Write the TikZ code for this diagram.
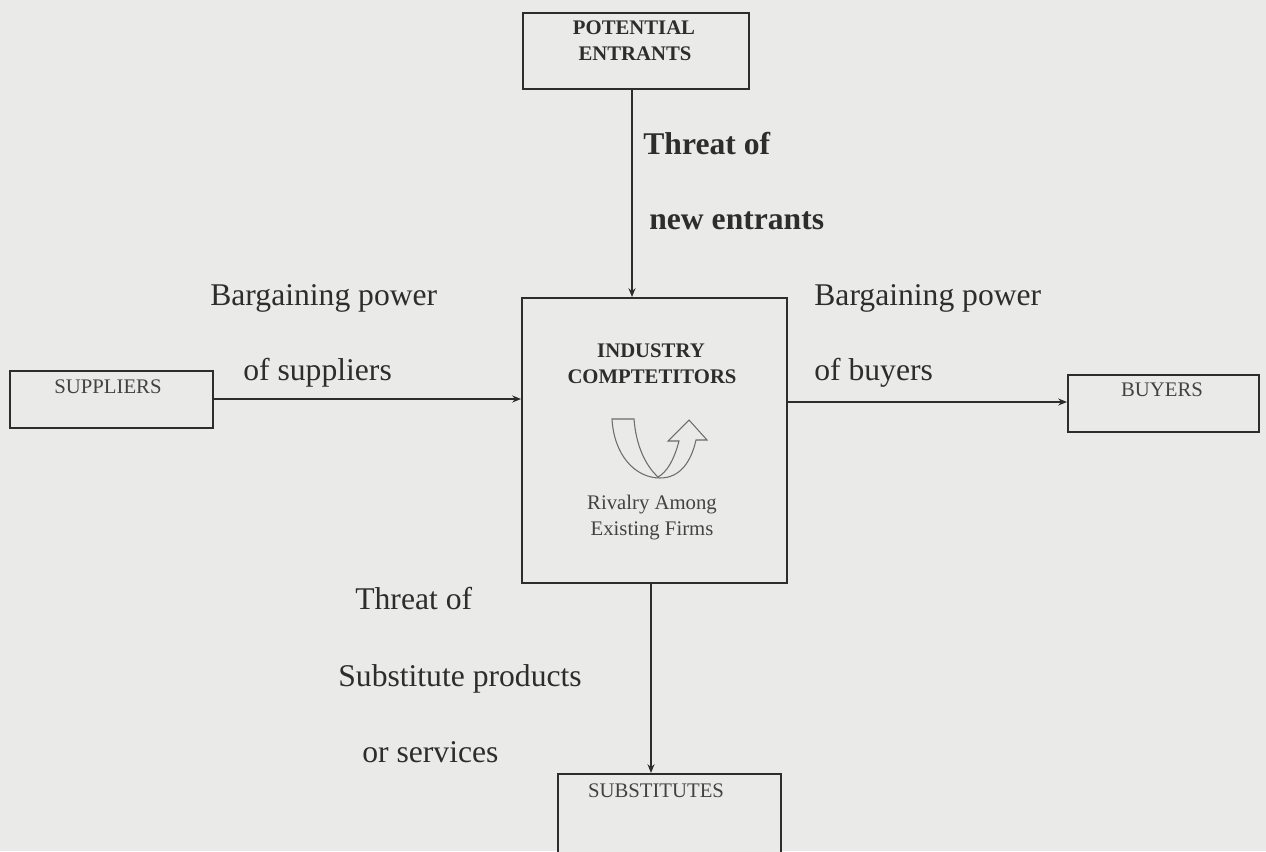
\documentclass[tikz,border=0pt]{standalone}
\usepackage{fontspec}
\setmainfont{Liberation Serif}
\usetikzlibrary{arrows.meta}
\definecolor{bg}{RGB}{234,234,232}
\definecolor{ink}{RGB}{45,45,45}
\begin{document}
\begin{tikzpicture}[x=0.02cm,y=-0.02cm,
  box/.style={draw=ink,line width=1.05pt,fill=bg,inner sep=0pt,anchor=north west},
  lbl/.style={text=ink,font=\fontsize{18}{21}\selectfont,inner sep=0pt,anchor=base west},
  blbl/.style={text=ink,font=\bfseries\fontsize{18}{21}\selectfont,inner sep=0pt,anchor=base west},
  btxt/.style={text=ink,font=\bfseries\fontsize{11.8}{14}\selectfont,inner sep=0pt,anchor=base},
  rtxt/.style={text=ink!90,font=\fontsize{11.8}{14}\selectfont,inner sep=0pt,anchor=base},
  conn/.style={draw=ink,line width=1.05pt,-{Stealth[length=5pt,width=4pt]}}]
\useasboundingbox (0,0) rectangle (1266,851);
\fill[bg] (0,0) rectangle (1266,851);
% boxes
\node[box,minimum width=226*0.02cm,minimum height=76*0.02cm] (pe) at (522,12) {};
\node[box,minimum width=265*0.02cm,minimum height=285*0.02cm] (ic) at (521,297) {};
\node[box,minimum width=203*0.02cm,minimum height=57*0.02cm] (su) at (9,370) {};
\node[box,minimum width=191*0.02cm,minimum height=57*0.02cm] (bu) at (1067,374) {};
\node[box,minimum width=223*0.02cm,minimum height=110*0.02cm] (sb) at (557,773) {};
% box texts
\node[btxt] (pet1) at (634,35) {POTENTIAL};
\node[btxt] (pet2) at (635,61) {ENTRANTS};
\node[btxt] (ict1) at (651,357) {INDUSTRY};
\node[btxt] (ict2) at (652,383) {COMPTETITORS};
\node[rtxt] (sut) at (108,393) {SUPPLIERS};
\node[rtxt] (but) at (1162,396) {BUYERS};
\node[rtxt] (sbt) at (656,797) {SUBSTITUTES};
\node[rtxt] (riv1) at (652,509) {Rivalry Among};
\node[rtxt] (riv2) at (652,535) {Existing Firms};
% connectors
\draw[conn] (pe.south -| 632,0) -- (ic.north -| 632,0);
\draw[conn] (su.east |- 0,399) -- (ic.west |- 0,399);
\draw[conn] (ic.east |- 0,402) -- (bu.west |- 0,402);
\draw[conn] (ic.south -| 651,0) -- (sb.north -| 651,0);
% rivalry arrow
\draw[ink!70,line width=0.6pt,line join=miter] (612,419) .. controls (614,455) and (635,478) .. (660,478)
  .. controls (680,478) and (691,462) .. (696,440) -- (707,440) -- (689,420) -- (668,441) -- (679,441)
  .. controls (674,460) and (667,472) .. (658,477)
  .. controls (645,465) and (636,445) .. (634,419) -- cycle;
% labels
\node[blbl] (t1) at (643,154) {Threat of};
\node[blbl] (t2) at (649,229) {new entrants};
\node[lbl] (b1) at (210,305) {Bargaining power};
\node[lbl] (b2) at (243,380) {of suppliers};
\node[lbl] (b3) at (814,305) {Bargaining power};
\node[lbl] (b4) at (814,380) {of buyers};
\node[lbl] (s1) at (355,609) {Threat of};
\node[lbl] (s2) at (338,686) {Substitute products};
\node[lbl] (s3) at (362,762) {or services};
\end{tikzpicture}
\end{document}
